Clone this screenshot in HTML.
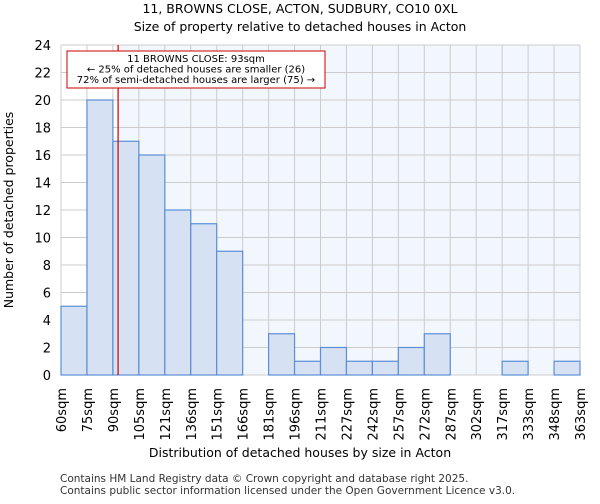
<!DOCTYPE html>
<html><head><meta charset="utf-8"><style>
body{margin:0;background:#fff;font-family:"DejaVu Sans","Liberation Sans",sans-serif;}
</style></head><body>
<svg id="c" width="600" height="500" xmlns="http://www.w3.org/2000/svg" font-family="DejaVu Sans, Liberation Sans, sans-serif">
<text x="300" y="13" text-anchor="middle" font-size="12.5">11, BROWNS CLOSE, ACTON, SUDBURY, CO10 0XL</text>
<text x="300" y="31" text-anchor="middle" font-size="12.5">Size of property relative to detached houses in Acton</text>
<g id="plot"></g>
<text x="300" y="457" text-anchor="middle" font-size="12.5">Distribution of detached houses by size in Acton</text>
<text transform="translate(13,210) rotate(-90)" text-anchor="middle" font-size="12.5">Number of detached properties</text>
<text x="60" y="482" font-size="10.5" fill="#333">Contains HM Land Registry data © Crown copyright and database right 2025.</text>
<text x="60" y="494" font-size="10.5" fill="#333">Contains public sector information licensed under the Open Government Licence v3.0.</text>
</svg>
<script>
const binLabels=["60sqm","75sqm","90sqm","105sqm","121sqm","136sqm","151sqm","166sqm","181sqm","196sqm","211sqm","227sqm","242sqm","257sqm","272sqm","287sqm","302sqm","317sqm","333sqm","348sqm","363sqm"];
const binEdges=[60,75,90,105,121,136,151,166,181,196,211,227,242,257,272,287,302,317,333,348,363];
const counts=[5,20,17,16,12,11,9,0,3,1,2,1,1,2,3,0,0,1,0,1];
const yTicks=[0,2,4,6,8,10,12,14,16,18,20,22,24];
const subjectSize=93;
const L=61,R=580,T=45,B=375,N=counts.length,bw=(R-L)/N;
const ns="http://www.w3.org/2000/svg";
const g=document.getElementById('plot');
function y(v){return B-(v/24)*(B-T);}
function xIdx(i){return L+i*bw;}
function xVal(v){for(let i=0;i<binEdges.length-1;i++){if(v<=binEdges[i+1])return xIdx(i)+bw*(v-binEdges[i])/(binEdges[i+1]-binEdges[i]);}return R;}
function mk(t,a){const e=document.createElementNS(ns,t);for(const k in a)e.setAttribute(k,a[k]);g.appendChild(e);return e;}
const sx=xVal(subjectSize);
let e;
e=mk('rect',{x:L,y:T,width:sx-L,height:B-T,fill:'#ffffff'});


e=mk('rect',{x:sx,y:T,width:R-sx,height:B-T,fill:'#f2f6fd'});


yTicks.forEach(v=>{
 e=mk('line',{x1:L,x2:R,y1:y(v),y2:y(v),stroke:'#cccccc','stroke-width':1});
 
 
 e=mk('text',{x:L-10,y:y(v)+5,'text-anchor':'end','font-size':13});
 e.textContent=v;
 
 
});
for(let i=0;i<=N;i++){
 e=mk('line',{x1:xIdx(i),x2:xIdx(i),y1:T,y2:B,stroke:'#cccccc','stroke-width':1});
 
 
}
counts.forEach((c,i)=>{
 if(c<=0)return;
 e=mk('rect',{x:xIdx(i),y:y(c),width:bw,height:B-y(c),fill:'#d6e1f3',stroke:'#5b8fd6','stroke-width':1.2});
 
 
});
binLabels.forEach((lb,i)=>{
 const xx=xIdx(i);
 e=mk('text',{transform:`translate(${xx+5},388) rotate(-90)`,'text-anchor':'end','font-size':13});
 e.textContent=lb;
 
 
});
e=mk('line',{x1:sx,x2:sx,y1:T,y2:B,stroke:'#cc0000','stroke-width':1.2});


e=mk('rect',{x:67,y:51,width:258,height:37,fill:'#fff',stroke:'#cc0000','stroke-width':1});


["11 BROWNS CLOSE: 93sqm","← 25% of detached houses are smaller (26)","72% of semi-detached houses are larger (75) →"].forEach((t,i)=>{
 e=mk('text',{x:196,y:62+i*10.5,'text-anchor':'middle','font-size':10});
 e.textContent=t;
 
 
});
</script>
</body></html>
